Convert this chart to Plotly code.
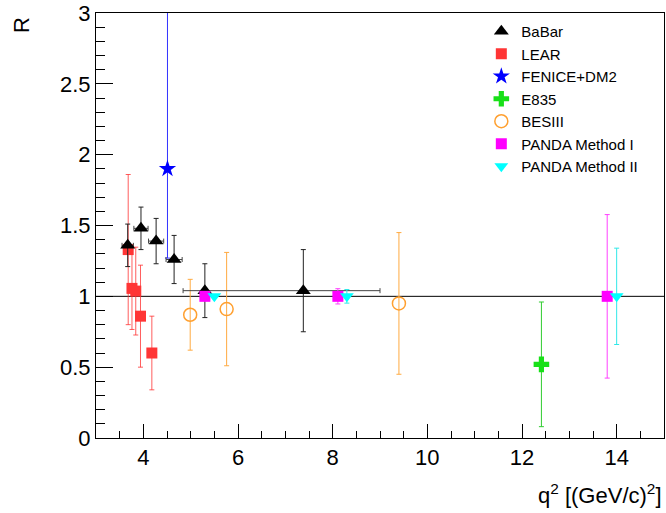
import plotly.graph_objects as go

# ---------------- data ----------------
babar_x = [3.67, 3.95, 4.27, 4.65, 5.30, 7.38]
babar_y = [1.36, 1.48, 1.39, 1.26, 1.04, 1.04]
babar_ey = [0.15, 0.15, 0.16, 0.17, 0.19, 0.29]
babar_ex_plus = [0.12, 0.15, 0.16, 0.17, 0.0, 1.62]
babar_ex_minus = [0.12, 0.15, 0.16, 0.17, 0.0, 2.54]

lear_x = [3.68, 3.76, 3.84, 3.94, 4.18]
lear_y = [1.33, 1.056, 1.037, 0.86, 0.60]
lear_ey = [0.53, 0.29, 0.31, 0.36, 0.26]

fenice_x = [4.51]
fenice_y = [1.90]
fenice_ey_plus = [1.5]
fenice_ey_minus = [0.63]

e835_x = [12.41]
e835_y = [0.52]
e835_ey = [0.44]

besiii_x = [4.99, 5.76, 9.40]
besiii_y = [0.87, 0.91, 0.95]
besiii_ey = [0.25, 0.40, 0.50]

panda1_x = [5.30, 8.11, 13.80]
panda1_y = [1.0, 1.0, 1.0]
panda1_ey = [0.01, 0.054, 0.577]

panda2_x = [5.50, 8.30, 14.00]
panda2_y = [1.0, 1.0, 1.0]
panda2_ey = [0.01, 0.048, 0.34]

ref_x = [3, 15]
ref_y = [1, 1]

FONT = "Liberation Sans, Arial, Helvetica, sans-serif"

fig = go.Figure()

# reference line R = 1
fig.add_trace(go.Scatter(x=ref_x, y=ref_y, mode="lines",
                         line=dict(color="black", width=1), showlegend=False,
                         hoverinfo="skip"))

def eb(arr, color, minus=None):
    d = dict(type="data", array=arr, visible=True, color=color,
             thickness=1, width=2.5)
    if minus is not None:
        d["symmetric"] = False
        d["arrayminus"] = minus
    return d

fig.add_trace(go.Scatter(
    x=lear_x, y=lear_y, mode="markers", name="LEAR", legendrank=2,
    marker=dict(symbol="square", size=11, color="#ff3535"),
    error_y=eb(lear_ey, "rgba(255,40,40,0.75)")))

fig.add_trace(go.Scatter(
    x=fenice_x, y=fenice_y, mode="markers", name="FENICE+DM2", legendrank=3,
    marker=dict(symbol="star", size=13, color="#0000ff"),
    error_y=eb(fenice_ey_plus, "#3333ff", fenice_ey_minus)))

fig.add_trace(go.Scatter(
    x=e835_x, y=e835_y, mode="markers", name="E835", legendrank=4,
    marker=dict(symbol="cross", size=13, color="#18e018"),
    error_y=eb(e835_ey, "#30cc30")))

fig.add_trace(go.Scatter(
    x=besiii_x, y=besiii_y, mode="markers", name="BESIII", legendrank=5,
    marker=dict(symbol="circle-open", size=13, color="#ffa030",
                line=dict(width=1.5, color="#ffa030")),
    error_y=eb(besiii_ey, "#ffaa40")))

fig.add_trace(go.Scatter(
    x=babar_x, y=babar_y, mode="markers", name="BaBar", legendrank=1,
    marker=dict(symbol="triangle-up", size=13, color="black"),
    error_y=eb(babar_ey, "#222222"),
    error_x=eb(babar_ex_plus, "#444444", babar_ex_minus)))

fig.add_trace(go.Scatter(
    x=panda1_x, y=panda1_y, mode="markers", name="PANDA Method I", legendrank=6,
    marker=dict(symbol="square", size=11, color="#ff00ff"),
    error_y=eb(panda1_ey, "#ff40ff")))

fig.add_trace(go.Scatter(
    x=panda2_x, y=panda2_y, mode="markers", name="PANDA Method II", legendrank=7,
    marker=dict(symbol="triangle-down", size=12, color="#00ffff"),
    error_y=eb(panda2_ey, "#30e8e8")))

W, H = 666, 513
ml, mr, mt, mb = 96, 1, 9, 75
pw, ph = W - ml - mr, H - mt - mb

fig.update_layout(
    width=W, height=H,
    margin=dict(l=ml, r=mr, t=mt, b=mb, pad=0),
    paper_bgcolor="white", plot_bgcolor="white",
    font=dict(family=FONT, color="black", size=22),
    showlegend=True,
    legend=dict(
        x=(482 - ml) / pw, xanchor="left",
        y=1 - (11 - mt) / ph, yanchor="top",
        font=dict(family=FONT, size=15, color="black"),
        bgcolor="rgba(0,0,0,0)", borderwidth=0,
        itemsizing="trace", tracegroupgap=0,
    ),
    xaxis=dict(
        range=[3, 15], showgrid=False, zeroline=False,
        showline=True, linecolor="black", linewidth=1, mirror=True,
        ticks="inside", ticklen=14, tickcolor="black", tickwidth=1,
        tick0=0, dtick=2, ticklabeloverflow="allow",
        tickfont=dict(family=FONT, size=22, color="black"),
        minor=dict(ticks="inside", ticklen=7, tickcolor="black", dtick=0.5,
                   tick0=0, showgrid=False),
    ),
    yaxis=dict(
        range=[0, 3], showgrid=False, zeroline=False,
        showline=True, linecolor="black", linewidth=1, mirror=True,
        ticks="inside", ticklen=17, tickcolor="black", tickwidth=1,
        tick0=0, dtick=0.5, ticklabeloverflow="allow",
        tickfont=dict(family=FONT, size=22, color="black"),
        minor=dict(ticks="inside", ticklen=9, tickcolor="black", dtick=0.1,
                   tick0=0, showgrid=False),
    ),
    annotations=[
        dict(text="R", xref="paper", yref="paper",
             x=(21.5 - ml) / pw, y=1 - (21.5 - mt) / ph,
             xanchor="center", yanchor="middle", textangle=-90,
             showarrow=False, font=dict(family=FONT, size=22, color="black")),
        dict(text="q<sup>2</sup> [(GeV/c)<sup>2</sup>]", xref="paper", yref="paper",
             x=1, y=-(495 - (mt + ph)) / ph,
             xanchor="right", yanchor="middle",
             showarrow=False, font=dict(family=FONT, size=22, color="black")),
    ],
)

fig.write_html("out.html",
               config={"displayModeBar": False},
               post_script="document.body.style.margin='0';"
                           "document.body.style.overflow='hidden';")
